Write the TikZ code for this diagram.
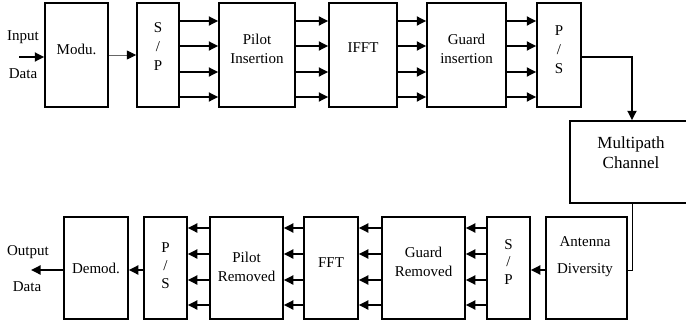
\documentclass[tikz,border=0pt]{standalone}
\usepackage{fontspec}
\setmainfont{Liberation Serif}
\usetikzlibrary{arrows.meta}

\begin{document}
\begin{tikzpicture}[x=1pt,y=-1pt,
    box/.style={draw,line width=1.5pt,inner sep=0pt,minimum height=104pt},
    lbox/.style={box,minimum height=102pt},
    txt/.style={font=\fontsize{15}{19}\selectfont,align=center,inner sep=0pt},
    arr/.style={line width=1.8pt,-{Triangle[length=9.5pt,width=9pt]}},
    fine/.style={line width=0.9pt,draw=black!60,-{Triangle[length=9.5pt,width=9pt,black]}},
    wire/.style={line width=1pt}]
  \useasboundingbox (0,0) rectangle (686,324);

  % transmitter
  \node[box,minimum width=63pt] (modu)  at (76.5,55) {};
  \node[box,minimum width=42pt] (sp1)   at (158,55) {};
  \node[box,minimum width=76pt] (pilot) at (257,55) {};
  \node[box,minimum width=68pt] (ifft)  at (363,55) {};
  \node[box,minimum width=79pt] (guard) at (466.5,55) {};
  \node[box,minimum width=44pt] (ps1)   at (559,55) {};

  \node[box,minimum width=124pt,minimum height=82pt] (chan) at (632,162) {};

  % receiver
  \node[lbox,minimum width=81pt] (ant)    at (586.5,268) {};
  \node[lbox,minimum width=43pt] (sp2)    at (508.5,268) {};
  \node[lbox,minimum width=83pt] (guardr) at (423.5,268) {};
  \node[lbox,minimum width=54pt] (fft)    at (331,268) {};
  \node[lbox,minimum width=73pt] (pilotr) at (246.5,268) {};
  \node[lbox,minimum width=43pt] (ps2)    at (165.5,268) {};
  \node[lbox,minimum width=64pt] (demod)  at (96,268) {};

  % labels
  \node[txt] (modu-t)   at (76.5,49) {Modu.};
  \node[txt] (sp1-t)    at (158,47) {S\\/\\P};
  \node[txt] (pilot-t)  at (257,49) {Pilot\\Insertion};
  \node[txt] (ifft-t)   at (363,48) {IFFT};
  \node[txt] (guard-t)  at (466.5,49) {Guard\\insertion};
  \node[txt] (ps1-t)    at (559,50) {P\\/\\S};
  \node[txt,font=\fontsize{17}{20}\selectfont] (chan-t) at (631,153) {Multipath\\Channel};
  \node[txt] (ant-t)    at (585,257) {Antenna\\[8pt]Diversity};
  \node[txt,font=\fontsize{15}{17.5}\selectfont] (sp2-t) at (508.5,262) {S\\/\\P};
  \node[txt] (guardr-t) at (423.5,262) {Guard\\Removed};
  \node[txt] (fft-t)    at (331,263) {FFT};
  \node[txt] (pilotr-t) at (246.5,267) {Pilot\\Removed};
  \node[txt,font=\fontsize{15}{18}\selectfont] (ps2-t) at (165.5,266) {P\\/\\S};
  \node[txt] (demod-t)  at (96,268) {Demod.};

  \node[txt] (in-t)   at (23,37) {Input};
  \node[txt] (in-d)   at (23,74) {Data};
  \node[txt] (out-t)  at (28,252) {Output};
  \node[txt] (out-d)  at (27,287) {Data};

  \coordinate (in)  at (19,57);
  \coordinate (out) at (31,270);

  % connectors
  \draw[arr] (in) -- (in -| modu.west);
  \draw[fine] (modu) -- (sp1);
  \foreach \a/\b in {sp1/pilot,pilot/ifft,ifft/guard,guard/ps1}
    \foreach \y in {21,46,72,97}
      \draw[arr] (\a.east |- 0,\y) -- (\b.west |- 0,\y);
  \draw[arr] (ps1.east |- 0,57) -| (chan.north);
  \draw[wire] (chan.south) |- (ant.east |- 0,270);
  \draw[arr] (ant.west |- 0,270) -- (sp2.east |- 0,270);
  \foreach \a/\b in {ps2/pilotr,pilotr/fft,fft/guardr,guardr/sp2}
    \foreach \y in {228,254,280,305}
      \draw[arr] (\b.west |- 0,\y) -- (\a.east |- 0,\y);
  \draw[arr] (ps2.west |- 0,270) -- (demod.east |- 0,270);
  \draw[arr] (demod.west |- 0,270) -- (out);
\end{tikzpicture}
\end{document}
